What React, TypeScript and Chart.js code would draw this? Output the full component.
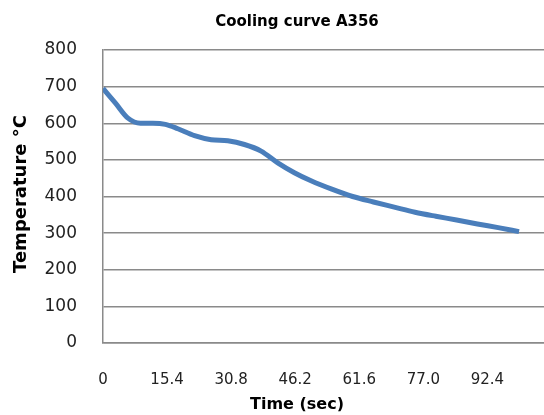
import React, { useEffect, useRef } from "react";
import { Chart, registerables } from "chart.js";

Chart.register(...registerables);

const chartTitle = "Cooling curve A356";
const xAxisTitle = "Time (sec)";
const yAxisTitle = "Temperature °C";

const times = [0, 3, 6, 9, 12, 15, 18, 22, 26, 30, 34, 38, 42, 46, 50, 55, 60, 65, 70, 75, 80, 85, 90, 95, 100];
const temps = [695, 655, 614, 600, 600, 597, 585, 566, 555, 552, 542, 524, 492, 465, 443, 420, 400, 385, 371, 357, 346, 336, 325, 315, 304];

const xTickValues = [0, 15.4, 30.8, 46.2, 61.6, 77.0, 92.4];
const xTickLabels = ["0", "15.4", "30.8", "46.2", "61.6", "77.0", "92.4"];

const W = 544;
const H = 415;

export default function App() {
  const ref = useRef<HTMLCanvasElement | null>(null);

  useEffect(() => {
    if (!ref.current) return;
    const titlePlugin = {
      id: "customTitles",
      afterDraw(chart: any) {
        const ctx = chart.ctx;
        ctx.save();
        ctx.fillStyle = "#000";
        ctx.textAlign = "center";
        ctx.textBaseline = "middle";
        ctx.font = "bold 15px 'DejaVu Sans'";
        ctx.fillText(chartTitle, 297, 22);
        ctx.font = "bold 16px 'DejaVu Sans'";
        ctx.fillText(xAxisTitle, 297, 405);
        ctx.font = "bold 18px 'DejaVu Sans'";
        ctx.translate(21, 194);
        ctx.rotate(-Math.PI / 2);
        ctx.fillText(yAxisTitle, 0, 0);
        ctx.restore();
      },
    };

    const chart = new Chart(ref.current, {
      type: "line",
      data: {
        datasets: [
          {
            data: times.map((t, i) => ({ x: t, y: temps[i] })),
            borderColor: "#4a7ebb",
            borderWidth: 5,
            pointRadius: 0,
            tension: 0.4,
            cubicInterpolationMode: "monotone",
            fill: false,
          },
        ],
      },
      options: {
        animation: false,
        responsive: false,
        layout: { padding: { left: 0, right: 0, top: 50, bottom: 0 } },
        plugins: {
          legend: { display: false },
          title: { display: false },
          tooltip: { enabled: false },
        },
        scales: {
          x: {
            type: "linear",
            min: 0,
            max: 106,
            afterBuildTicks: (scale: any) => {
              scale.ticks = xTickValues.map((v) => ({ value: v }));
            },
            afterFit: (scale: any) => {
              scale.height = H - 343;
            },
            grid: { display: false, drawTicks: false },
            border: { display: true, color: "#8a8a8a", width: 1.5 },
            ticks: {
              padding: 28,
              color: "#222",
              font: { family: "'DejaVu Sans'", size: 15 },
              maxRotation: 0,
              autoSkip: false,
              callback: (value: any, index: number) => xTickLabels[index],
            },
          },
          y: {
            min: 0,
            max: 800,
            afterFit: (scale: any) => {
              scale.width = 103;
            },
            grid: { color: "#8a8a8a", lineWidth: 1.5, drawTicks: false },
            border: { display: true, color: "#8a8a8a", width: 1.5 },
            ticks: {
              stepSize: 100,
              padding: 26,
              color: "#222",
              font: { family: "'DejaVu Sans'", size: 17 },
            },
          },
        },
      },
      plugins: [titlePlugin],
    });
    return () => chart.destroy();
  }, []);

  return (
    <div style={{ position: "fixed", left: 0, top: 0, width: W, height: H, background: "#fff", overflow: "hidden" }}>
      <canvas ref={ref} width={W} height={H} style={{ width: W, height: H, display: "block" }} />
    </div>
  );
}
